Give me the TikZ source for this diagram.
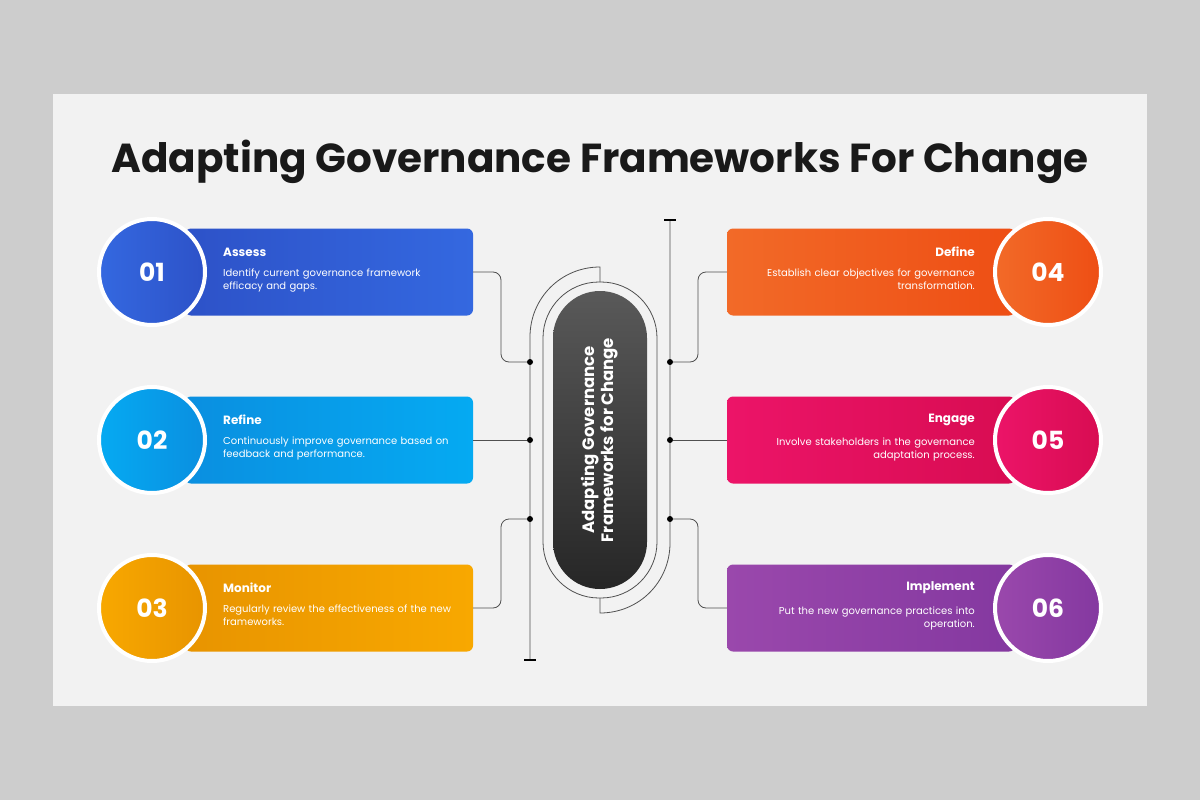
\documentclass[tikz,border=0pt]{standalone}
\usepackage{fontspec}
\setmainfont{Poppins}
\usetikzlibrary{positioning}
\definecolor{bgout}{HTML}{CDCDCD}
\definecolor{card}{HTML}{F2F2F2}
\definecolor{blueA}{HTML}{2D52C8}\definecolor{blueB}{HTML}{3468E0}
\definecolor{cyanA}{HTML}{0A8FE0}\definecolor{cyanB}{HTML}{05AAF2}
\definecolor{ambA}{HTML}{E89400}\definecolor{ambB}{HTML}{F8A800}
\definecolor{redA}{HTML}{EE4E14}\definecolor{redB}{HTML}{F26A28}
\definecolor{pinkA}{HTML}{D80C52}\definecolor{pinkB}{HTML}{EC1468}
\definecolor{purA}{HTML}{8438A0}\definecolor{purB}{HTML}{9A48AC}
\definecolor{wire}{HTML}{505050}
\tikzset{
  box/.style={rectangle, rounded corners=6pt, minimum width=288pt, minimum height=87pt, inner sep=0pt},
  num/.style={circle, draw=white, line width=4pt, minimum size=106pt, inner sep=0pt,
    text=white, font=\bfseries\fontsize{25}{25}\selectfont},
  head/.style={text=white, font=\bfseries\fontsize{12}{14}\selectfont, inner sep=0pt},
  desc/.style={text=white, font=\fontsize{10}{13}\selectfont, inner sep=0pt, text width=260pt},
  wr/.style={draw=wire, line width=0.8pt, rounded corners=8pt},
  dot/.style={circle, fill=black, inner sep=0pt, minimum size=6pt}
}
\begin{document}
\begin{tikzpicture}[x=1pt, y=-1pt]
  \fill[bgout] (0,0) rectangle (1200,800);
  \fill[card] (53,94) rectangle (1147,706);
  \useasboundingbox (0,0) rectangle (1200,800);
  \node[font=\bfseries\fontsize{40.5}{44}\selectfont, text=black!90] (title) at (600,162) {Adapting Governance Frameworks For Change};

  % left column
  \node[box, left color=blueA, right color=blueB] (box1) at (329,272) {};
  \node[box, left color=cyanA, right color=cyanB] (box2) at (329,440) {};
  \node[box, left color=ambA, right color=ambB] (box3) at (329,608) {};
  \node[num, left color=blueB, right color=blueA] (c1) at (152,272) {01};
  \node[num, left color=cyanB, right color=cyanA] (c2) at (152,440) {02};
  \node[num, left color=ambB, right color=ambA] (c3) at (152,608) {03};
  \node[head, anchor=west] (h1) at (223,252) {Assess};
  \node[head, anchor=west] (h2) at (223,420) {Refine};
  \node[head, anchor=west] (h3) at (223,588) {Monitor};
  \node[desc, anchor=north west] (d1) at ([yshift=-12pt]h1.south west) {Identify current governance framework\\efficacy and gaps.};
  \node[desc, anchor=north west] (d2) at ([yshift=-12pt]h2.south west) {Continuously improve governance based on\\feedback and performance.};
  \node[desc, anchor=north west] (d3) at ([yshift=-12pt]h3.south west) {Regularly review the effectiveness of the new\\frameworks.};

  % right column
  \node[box, left color=redB, right color=redA] (box4) at (871,272) {};
  \node[box, left color=pinkB, right color=pinkA] (box5) at (871,440) {};
  \node[box, left color=purB, right color=purA] (box6) at (871,608) {};
  \node[num, left color=redB, right color=redA] (c4) at (1048,272) {04};
  \node[num, left color=pinkB, right color=pinkA] (c5) at (1048,440) {05};
  \node[num, left color=purB, right color=purA] (c6) at (1048,608) {06};
  \node[head, anchor=east] (h4) at (975,252) {Define};
  \node[head, anchor=east] (h5) at (975,420) {Engage};
  \node[head, anchor=east] (h6) at (975,588) {Implement};
  \node[desc, align=right, anchor=north east] (d4) at ([yshift=-12pt]h4.south east) {Establish clear objectives for governance\\transformation.};
  \node[desc, align=right, anchor=north east] (d5) at ([yshift=-12pt]h5.south east) {Involve stakeholders in the governance\\adaptation process.};
  \node[desc, align=right, anchor=north east] (d6) at ([yshift=-12pt]h6.south east) {Put the new governance practices into\\operation.};

  % centre
  \draw[wire, line width=0.8pt, rounded corners=56pt] (543,282) rectangle (657,598);
  \node[rectangle, rounded corners=47pt, minimum width=94pt, minimum height=298pt, top color=black!65, bottom color=black!85] (core) at (600,440) {};
  \node[rotate=90, text=white, align=center, font=\bfseries\fontsize{16.5}{19}\selectfont] (ctext) at (core) {Adapting Governance\\Frameworks for Change};
  \coordinate (lbot) at (530,660);
  \coordinate (rtop) at (670,220);
  \draw[wire, line width=0.8pt] (600,282) -- (600,267) .. controls (561,267) and (530,298) .. (530,337) -- (lbot);
  \draw[wire, line width=0.8pt] (600,598) -- (600,613) .. controls (639,613) and (670,582) .. (670,543) -- (rtop);
  \draw[black, line width=1.2pt] (524,660) -- (536,660) (664,220) -- (676,220);
  \node[dot] (l1) at (530,362) {};
  \node[dot] (l2) at (530,440) {};
  \node[dot] (l3) at (530,519) {};
  \node[dot] (r1) at (670,362) {};
  \node[dot] (r2) at (670,440) {};
  \node[dot] (r3) at (670,519) {};
  \draw[wr] (box1.east) -| (501,362) -- (l1);
  \draw[wr] (box2.east) -- (l2);
  \draw[wr] (box3.east) -| (501,519) -- (l3);
  \draw[wr] (box4.west) -| (698,362) -- (r1);
  \draw[wr] (box5.west) -- (r2);
  \draw[wr] (box6.west) -| (698,519) -- (r3);
\end{tikzpicture}
\end{document}
